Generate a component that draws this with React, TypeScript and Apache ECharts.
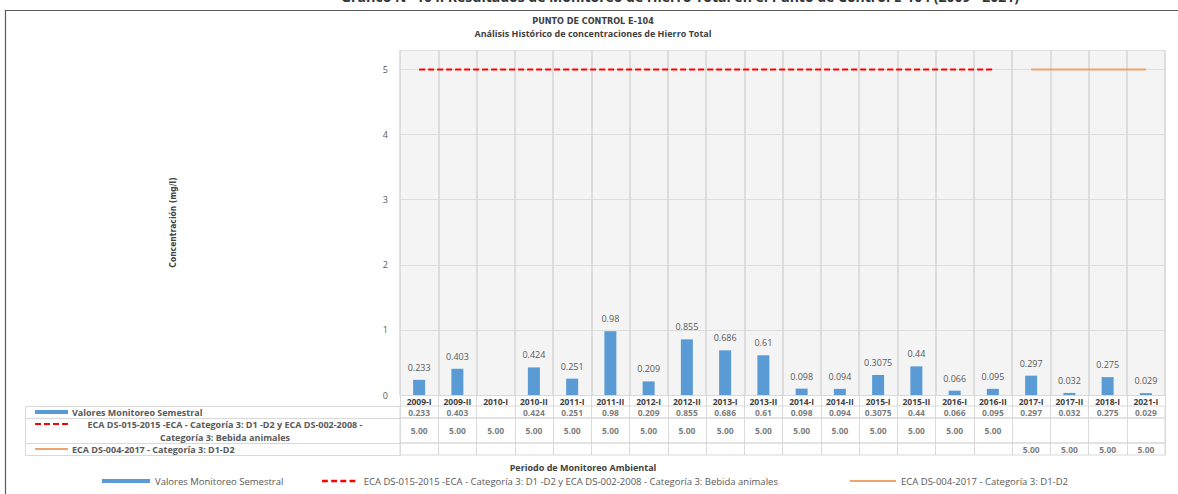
import React, { useEffect, useRef } from "react";
import * as echarts from "echarts";

// Semesters monitored at control point E-104
const categories = [
  "2009-I", "2009-II", "2010-I", "2010-II", "2011-I", "2011-II", "2012-I", "2012-II",
  "2013-I", "2013-II", "2014-I", "2014-II", "2015-I", "2015-II", "2016-I", "2016-II",
  "2017-I", "2017-II", "2018-I", "2021-I",
];

// Total iron concentration (mg/l); no sample in 2010-I
const hierroTotal: (number | null)[] = [
  0.233, 0.403, null, 0.424, 0.251, 0.98, 0.209, 0.855,
  0.686, 0.61, 0.098, 0.094, 0.3075, 0.44, 0.066, 0.095,
  0.297, 0.032, 0.275, 0.029,
];

// Standards in force for each period
const eca2015: (number | null)[] = [
  5, 5, 5, 5, 5, 5, 5, 5, 5, 5, 5, 5, 5, 5, 5, 5,
  null, null, null, null,
];
const eca2017: (number | null)[] = [
  null, null, null, null, null, null, null, null,
  null, null, null, null, null, null, null, null,
  5, 5, 5, 5,
];

const yTicks = [0, 1, 2, 3, 4, 5];

const SERIES_VALORES = "Valores Monitoreo Semestral";
const SERIES_ECA2015 =
  "ECA DS-015-2015 -ECA - Categoría 3: D1 -D2 y ECA DS-002-2008 - Categoría 3: Bebida animales";
const SERIES_ECA2017 = "ECA DS-004-2017 - Categoría 3: D1-D2";

const FONT = "'Open Sans', 'Liberation Sans', sans-serif";
const NARROW = "'Liberation Sans Narrow', 'DejaVu Sans Condensed', sans-serif";
const GRID_LINE = "#d9d9d9";
const TEXT = "#595959";
const DARK = "#404040";
const BLUE = "#5b9bd5";
const RED = "#ff0000";
const ORANGE = "#f0a46c";

// Layout of the plot and the data table underneath
const PLOT_LEFT = 400;
const PLOT_RIGHT = 1165;
const PLOT_TOP = 50;
const PLOT_BOTTOM = 395;
const HEAD_LEFT = 25;
const rowBands = [
  { top: 406, height: 12 },
  { top: 418, height: 25 },
  { top: 443, height: 12 },
];

const fmtLimit = (v: number | null) => (v == null ? "" : v.toFixed(2));
const fmtValue = (v: number | null) => (v == null ? "" : String(v));

export default function App() {
  const ref = useRef<HTMLDivElement>(null);

  useEffect(() => {
    document.body.style.margin = "0";
    if (!ref.current) return;
    const chart = echarts.init(ref.current, undefined, { renderer: "svg" });

    const width = PLOT_RIGHT - PLOT_LEFT;
    const tableRows = [hierroTotal.map(fmtValue), eca2015.map(fmtLimit), eca2017.map(fmtLimit)];

    const grids: any[] = [
      {
        left: PLOT_LEFT,
        width,
        top: PLOT_TOP,
        height: PLOT_BOTTOM - PLOT_TOP,
        show: true,
        backgroundColor: "#f4f4f4",
        borderWidth: 0,
      },
      // header band holding the category labels
      { left: PLOT_LEFT, width, top: PLOT_BOTTOM, height: rowBands[0].top - PLOT_BOTTOM, show: false },
      ...rowBands.map((b) => ({
        left: PLOT_LEFT,
        width,
        top: b.top,
        height: b.height,
        show: true,
        backgroundColor: "transparent",
        borderColor: GRID_LINE,
        borderWidth: 1,
      })),
    ];

    const tableXAxis = (gridIndex: number) => ({
      type: "category",
      gridIndex,
      data: categories,
      axisLine: { show: false },
      axisTick: { show: false },
      axisLabel: { show: false },
      splitLine: { show: true, interval: 0, lineStyle: { color: GRID_LINE, width: 1 } },
    });
    const tableYAxis = (gridIndex: number) => ({
      type: "value",
      gridIndex,
      min: 0,
      max: 1,
      show: false,
      splitLine: { show: false },
    });

    const xAxes: any[] = [
      {
        type: "category",
        gridIndex: 0,
        data: categories,
        axisLine: { show: true, lineStyle: { color: GRID_LINE } },
        axisTick: { show: false },
        axisLabel: {
          interval: 0,
          margin: 2,
          fontSize: 8.5,
          lineHeight: 9,
          fontWeight: "bold",
          color: DARK,
          fontFamily: FONT,
        },
        splitLine: { show: true, interval: 0, lineStyle: { color: "#d6d6d6", width: 1.5 } },
      },
      tableXAxis(1),
      tableXAxis(2),
      tableXAxis(3),
      tableXAxis(4),
    ];

    const yAxes: any[] = [
      {
        type: "value",
        gridIndex: 0,
        min: yTicks[0],
        max: 5.3,
        interval: 1,
        name: "Concentración (mg/l)",
        nameLocation: "middle",
        nameRotate: 90,
        nameGap: PLOT_LEFT - 177,
        nameTextStyle: { fontSize: 8.5, fontWeight: "bold", color: DARK, fontFamily: NARROW },
        axisLine: { show: false },
        axisTick: { show: false },
        axisLabel: {
          margin: 12,
          fontSize: 9,
          color: TEXT,
          fontFamily: FONT,
          formatter: (v: number) => (yTicks.includes(v) ? String(v) : ""),
        },
        splitLine: { show: true, lineStyle: { color: "#dedede", width: 1 } },
      },
      tableYAxis(1),
      tableYAxis(2),
      tableYAxis(3),
      tableYAxis(4),
    ];

    const tableSeries = tableRows.map((row, r) => ({
      type: "scatter",
      name: "tabla-" + r,
      xAxisIndex: r + 2,
      yAxisIndex: r + 2,
      symbolSize: 0,
      silent: true,
      data: row.map((txt, i) => ({ value: [i, 0.5], label: { formatter: txt } })),
      label: {
        show: true,
        position: "inside",
        fontSize: 8.5,
        lineHeight: 9,
        fontWeight: "bold",
        color: TEXT,
        fontFamily: FONT,
      },
    }));

    const headText = (text: string, x: number, y: number, align = "left") => ({
      type: "text",
      x,
      y,
      style: {
        text,
        fontSize: 9,
        fontWeight: "bold",
        fill: TEXT,
        fontFamily: FONT,
        textAlign: align,
        textVerticalAlign: "middle",
      },
    });

    const mid = (i: number) => rowBands[i].top + rowBands[i].height / 2;

    const graphics: any[] = [
      // outer frame
      {
        type: "rect",
        shape: { x: 5.5, y: 10.5, width: 1200, height: 500 },
        style: { fill: "none", stroke: "#5a5a5a", lineWidth: 1.2 },
      },
      {
        type: "text",
        x: 680,
        y: -11,
        style: {
          text: "Gráfico N° 104: Resultados de Monitoreo de Hierro Total en el Punto de Control E-104 (2009 - 2021)",
          fontSize: 14,
          fontWeight: "bold",
          fill: "#333",
          fontFamily: FONT,
          textAlign: "center",
        },
      },
      {
        type: "text",
        x: 593,
        y: 21,
        style: {
          text: "PUNTO DE CONTROL E-104",
          fontSize: 9,
          fontWeight: "bold",
          fill: DARK,
          fontFamily: NARROW,
          textAlign: "center",
          textVerticalAlign: "middle",
        },
      },
      {
        type: "text",
        x: 593,
        y: 33,
        style: {
          text: "Análisis Histórico de concentraciones de Hierro Total",
          fontSize: 9,
          fontWeight: "bold",
          fill: DARK,
          fontFamily: FONT,
          textAlign: "center",
          textVerticalAlign: "middle",
        },
      },
      {
        type: "text",
        x: 583,
        y: 467,
        style: {
          text: "Periodo de Monitoreo Ambiental",
          fontSize: 9,
          fontWeight: "bold",
          fill: DARK,
          fontFamily: FONT,
          textAlign: "center",
          textVerticalAlign: "middle",
        },
      },
      // header column of the data table
      ...rowBands.map((b) => ({
        type: "rect",
        shape: { x: HEAD_LEFT + 0.5, y: b.top + 0.5, width: PLOT_LEFT - HEAD_LEFT, height: b.height },
        style: { fill: "none", stroke: GRID_LINE, lineWidth: 1 },
      })),
      {
        type: "rect",
        shape: { x: 35, y: mid(0) - 2, width: 33, height: 4 },
        style: { fill: BLUE },
      },
      {
        type: "line",
        shape: { x1: 35, y1: rowBands[1].top + 6, x2: 70, y2: rowBands[1].top + 6 },
        style: { stroke: RED, lineWidth: 2, lineDash: [6, 3] },
      },
      {
        type: "line",
        shape: { x1: 35, y1: mid(2), x2: 68, y2: mid(2) },
        style: { stroke: ORANGE, lineWidth: 2 },
      },
      headText(SERIES_VALORES, 72, mid(0)),
      headText("ECA DS-015-2015 -ECA - Categoría 3: D1 -D2 y ECA DS-002-2008 -", 225, rowBands[1].top + 6, "center"),
      headText("Categoría 3: Bebida animales", 225, rowBands[1].top + 19, "center"),
      headText(SERIES_ECA2017, 72, mid(2)),
    ];

    const legendBase = {
      top: 474,
      itemGap: 6,
      padding: 2,
      textStyle: { fontSize: 9.5, color: TEXT, fontFamily: FONT },
      selectedMode: false,
    };

    chart.setOption({
      animation: false,
      backgroundColor: "#ffffff",
      grid: grids,
      xAxis: xAxes,
      yAxis: yAxes,
      legend: [
        {
          ...legendBase,
          left: 100,
          itemWidth: 48,
          itemHeight: 4,
          data: [{ name: SERIES_VALORES, icon: "rect" }],
        },
        {
          ...legendBase,
          left: 320,
          itemWidth: 40,
          itemHeight: 2.5,
          data: [
            {
              name: SERIES_ECA2015,
              icon: "path://M0,0h7v3h-7zM11,0h7v3h-7zM22,0h7v3h-7zM33,0h7v3h-7z",
            },
          ],
        },
        {
          ...legendBase,
          left: 848,
          itemWidth: 46,
          itemHeight: 2,
          data: [{ name: SERIES_ECA2017, icon: "rect" }],
        },
      ],
      series: [
        {
          type: "bar",
          name: SERIES_VALORES,
          data: hierroTotal,
          barWidth: 12,
          itemStyle: { color: BLUE },
          label: {
            show: true,
            position: "top",
            distance: 8,
            fontSize: 9,
            color: TEXT,
            fontFamily: FONT,
            formatter: (p: any) => String(p.value),
          },
        },
        {
          type: "line",
          name: SERIES_ECA2015,
          data: eca2015,
          symbol: "none",
          lineStyle: { color: RED, width: 2, type: [6, 3] },
          itemStyle: { color: RED },
        },
        {
          type: "line",
          name: SERIES_ECA2017,
          data: eca2017,
          symbol: "none",
          lineStyle: { color: ORANGE, width: 2 },
          itemStyle: { color: ORANGE },
        },
        ...tableSeries,
      ],
      graphic: graphics,
    });

    return () => chart.dispose();
  }, []);

  return <div ref={ref} style={{ width: 1178, height: 494 }} />;
}
